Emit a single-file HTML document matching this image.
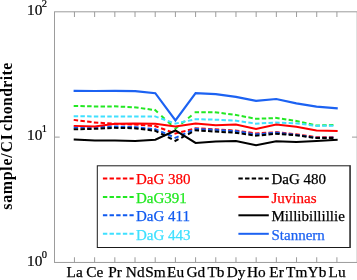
<!DOCTYPE html>
<html><head><meta charset="utf-8"><title>REE plot</title>
<style>
html,body{margin:0;padding:0;background:#fff;}
svg{display:block;}
text{font-family:"Liberation Serif","Times New Roman",serif;}
</style></head><body>
<svg width="357" height="280" viewBox="0 0 357 280">
<rect x="0" y="0" width="357" height="280" fill="#fff"/>

<g stroke="#9c9c9c" stroke-width="1" fill="none">
<rect x="54.5" y="11.8" width="302.7" height="250.64999999999998"/>
<line x1="74.45" y1="11.8" x2="74.45" y2="17.0"/>
<line x1="74.45" y1="262.45" x2="74.45" y2="257.25"/>
<line x1="94.64" y1="11.8" x2="94.64" y2="17.0"/>
<line x1="94.64" y1="262.45" x2="94.64" y2="257.25"/>
<line x1="114.83" y1="11.8" x2="114.83" y2="17.0"/>
<line x1="114.83" y1="262.45" x2="114.83" y2="257.25"/>
<line x1="135.02" y1="11.8" x2="135.02" y2="17.0"/>
<line x1="135.02" y1="262.45" x2="135.02" y2="257.25"/>
<line x1="155.21" y1="11.8" x2="155.21" y2="17.0"/>
<line x1="155.21" y1="262.45" x2="155.21" y2="257.25"/>
<line x1="175.40" y1="11.8" x2="175.40" y2="17.0"/>
<line x1="175.40" y1="262.45" x2="175.40" y2="257.25"/>
<line x1="195.59" y1="11.8" x2="195.59" y2="17.0"/>
<line x1="195.59" y1="262.45" x2="195.59" y2="257.25"/>
<line x1="215.78" y1="11.8" x2="215.78" y2="17.0"/>
<line x1="215.78" y1="262.45" x2="215.78" y2="257.25"/>
<line x1="235.97" y1="11.8" x2="235.97" y2="17.0"/>
<line x1="235.97" y1="262.45" x2="235.97" y2="257.25"/>
<line x1="256.16" y1="11.8" x2="256.16" y2="17.0"/>
<line x1="256.16" y1="262.45" x2="256.16" y2="257.25"/>
<line x1="276.35" y1="11.8" x2="276.35" y2="17.0"/>
<line x1="276.35" y1="262.45" x2="276.35" y2="257.25"/>
<line x1="296.54" y1="11.8" x2="296.54" y2="17.0"/>
<line x1="296.54" y1="262.45" x2="296.54" y2="257.25"/>
<line x1="316.73" y1="11.8" x2="316.73" y2="17.0"/>
<line x1="316.73" y1="262.45" x2="316.73" y2="257.25"/>
<line x1="336.92" y1="11.8" x2="336.92" y2="17.0"/>
<line x1="336.92" y1="262.45" x2="336.92" y2="257.25"/>
<line x1="54.5" y1="137.12" x2="59.7" y2="137.12"/>
<line x1="357.2" y1="137.12" x2="352.0" y2="137.12"/>
</g>
<g fill="none" stroke-width="2" stroke-linejoin="miter" stroke-linecap="square">
<line x1="73.71" y1="119.88" x2="93.46" y2="122.33" stroke="#ff0000" stroke-linecap="butt" stroke-dasharray="4.45 2.318"/>
<line x1="93.85" y1="122.44" x2="113.60" y2="123.71" stroke="#ff0000" stroke-linecap="butt" stroke-dasharray="4.45 2.281"/>
<line x1="114.00" y1="123.77" x2="133.75" y2="124.45" stroke="#ff0000" stroke-linecap="butt" stroke-dasharray="4.45 2.271"/>
<line x1="134.15" y1="124.42" x2="153.90" y2="125.99" stroke="#ff0000" stroke-linecap="butt" stroke-dasharray="4.45 2.288"/>
<line x1="154.36" y1="125.76" x2="174.14" y2="133.02" stroke="#ff0000" stroke-linecap="butt" stroke-dasharray="4.45 2.705"/>
<line x1="174.48" y1="133.75" x2="194.24" y2="128.65" stroke="#ff0000" stroke-linecap="butt" stroke-dasharray="4.45 2.487"/>
<line x1="194.60" y1="128.25" x2="214.35" y2="129.23" stroke="#ff0000" stroke-linecap="butt" stroke-dasharray="4.45 2.275"/>
<line x1="214.75" y1="129.24" x2="234.50" y2="130.51" stroke="#ff0000" stroke-linecap="butt" stroke-dasharray="4.45 2.281"/>
<line x1="234.91" y1="130.46" x2="254.66" y2="133.21" stroke="#ff0000" stroke-linecap="butt" stroke-dasharray="4.45 2.331"/>
<line x1="255.05" y1="133.46" x2="274.80" y2="132.28" stroke="#ff0000" stroke-linecap="butt" stroke-dasharray="4.45 2.279"/>
<line x1="275.21" y1="132.10" x2="294.96" y2="134.15" stroke="#ff0000" stroke-linecap="butt" stroke-dasharray="4.45 2.303"/>
<line x1="295.36" y1="134.16" x2="315.11" y2="137.00" stroke="#ff0000" stroke-linecap="butt" stroke-dasharray="4.45 2.336"/>
<line x1="315.50" y1="137.20" x2="335.25" y2="137.20" stroke="#ff0000" stroke-linecap="butt" stroke-dasharray="4.45 2.267"/>
<line x1="73.70" y1="105.98" x2="93.45" y2="106.37" stroke="#22e822" stroke-linecap="butt" stroke-dasharray="4.45 2.268"/>
<line x1="93.85" y1="106.40" x2="113.60" y2="106.40" stroke="#22e822" stroke-linecap="butt" stroke-dasharray="4.45 2.267"/>
<line x1="114.00" y1="106.36" x2="133.75" y2="107.24" stroke="#22e822" stroke-linecap="butt" stroke-dasharray="4.45 2.273"/>
<line x1="134.16" y1="107.16" x2="153.91" y2="110.00" stroke="#22e822" stroke-linecap="butt" stroke-dasharray="4.45 2.336"/>
<line x1="154.56" y1="109.53" x2="174.42" y2="127.66" stroke="#22e822" stroke-linecap="butt" stroke-dasharray="4.45 4.646"/>
<line x1="174.67" y1="129.23" x2="194.51" y2="113.08" stroke="#22e822" stroke-linecap="butt" stroke-dasharray="4.45 4.210"/>
<line x1="194.60" y1="112.20" x2="214.35" y2="112.29" stroke="#22e822" stroke-linecap="butt" stroke-dasharray="4.45 2.267"/>
<line x1="214.76" y1="112.17" x2="234.51" y2="114.81" stroke="#22e822" stroke-linecap="butt" stroke-dasharray="4.45 2.327"/>
<line x1="234.92" y1="114.81" x2="254.67" y2="118.54" stroke="#22e822" stroke-linecap="butt" stroke-dasharray="4.45 2.385"/>
<line x1="255.05" y1="118.84" x2="274.80" y2="118.06" stroke="#22e822" stroke-linecap="butt" stroke-dasharray="4.45 2.272"/>
<line x1="275.21" y1="117.85" x2="294.97" y2="120.79" stroke="#22e822" stroke-linecap="butt" stroke-dasharray="4.45 2.341"/>
<line x1="295.37" y1="120.78" x2="315.13" y2="125.19" stroke="#22e822" stroke-linecap="butt" stroke-dasharray="4.45 2.432"/>
<line x1="315.50" y1="125.53" x2="335.25" y2="124.94" stroke="#22e822" stroke-linecap="butt" stroke-dasharray="4.45 2.270"/>
<line x1="73.70" y1="127.41" x2="93.45" y2="127.21" stroke="#0f5af0" stroke-linecap="butt" stroke-dasharray="4.45 2.267"/>
<line x1="93.85" y1="127.23" x2="113.60" y2="126.55" stroke="#0f5af0" stroke-linecap="butt" stroke-dasharray="4.45 2.271"/>
<line x1="114.00" y1="126.47" x2="133.75" y2="127.15" stroke="#0f5af0" stroke-linecap="butt" stroke-dasharray="4.45 2.271"/>
<line x1="134.15" y1="127.10" x2="153.91" y2="129.06" stroke="#0f5af0" stroke-linecap="butt" stroke-dasharray="4.45 2.300"/>
<line x1="154.38" y1="128.81" x2="174.16" y2="137.25" stroke="#0f5af0" stroke-linecap="butt" stroke-dasharray="4.45 2.853"/>
<line x1="174.54" y1="138.20" x2="194.32" y2="129.47" stroke="#0f5af0" stroke-linecap="butt" stroke-dasharray="4.45 2.893"/>
<line x1="194.60" y1="128.85" x2="214.35" y2="129.83" stroke="#0f5af0" stroke-linecap="butt" stroke-dasharray="4.45 2.275"/>
<line x1="214.75" y1="129.84" x2="234.50" y2="131.11" stroke="#0f5af0" stroke-linecap="butt" stroke-dasharray="4.45 2.281"/>
<line x1="234.91" y1="131.04" x2="254.67" y2="134.18" stroke="#0f5af0" stroke-linecap="butt" stroke-dasharray="4.45 2.351"/>
<line x1="255.05" y1="134.49" x2="274.81" y2="132.72" stroke="#0f5af0" stroke-linecap="butt" stroke-dasharray="4.45 2.293"/>
<line x1="275.21" y1="132.49" x2="294.96" y2="134.74" stroke="#0f5af0" stroke-linecap="butt" stroke-dasharray="4.45 2.310"/>
<line x1="295.36" y1="134.76" x2="315.11" y2="137.51" stroke="#0f5af0" stroke-linecap="butt" stroke-dasharray="4.45 2.331"/>
<line x1="315.50" y1="137.70" x2="335.25" y2="137.61" stroke="#0f5af0" stroke-linecap="butt" stroke-dasharray="4.45 2.267"/>
<line x1="73.70" y1="116.30" x2="93.45" y2="116.39" stroke="#3fe0ff" stroke-linecap="butt" stroke-dasharray="4.45 2.267"/>
<line x1="93.85" y1="116.40" x2="113.60" y2="116.40" stroke="#3fe0ff" stroke-linecap="butt" stroke-dasharray="4.45 2.267"/>
<line x1="114.00" y1="116.39" x2="133.75" y2="116.59" stroke="#3fe0ff" stroke-linecap="butt" stroke-dasharray="4.45 2.267"/>
<line x1="134.15" y1="116.60" x2="153.90" y2="116.51" stroke="#3fe0ff" stroke-linecap="butt" stroke-dasharray="4.45 2.267"/>
<line x1="154.36" y1="116.17" x2="174.13" y2="123.13" stroke="#3fe0ff" stroke-linecap="butt" stroke-dasharray="4.45 2.671"/>
<line x1="174.47" y1="123.81" x2="194.23" y2="119.50" stroke="#3fe0ff" stroke-linecap="butt" stroke-dasharray="4.45 2.425"/>
<line x1="194.60" y1="119.18" x2="214.35" y2="119.67" stroke="#3fe0ff" stroke-linecap="butt" stroke-dasharray="4.45 2.269"/>
<line x1="214.75" y1="119.65" x2="234.50" y2="120.63" stroke="#3fe0ff" stroke-linecap="butt" stroke-dasharray="4.45 2.275"/>
<line x1="234.91" y1="120.56" x2="254.66" y2="123.40" stroke="#3fe0ff" stroke-linecap="butt" stroke-dasharray="4.45 2.336"/>
<line x1="255.05" y1="123.65" x2="274.80" y2="122.58" stroke="#3fe0ff" stroke-linecap="butt" stroke-dasharray="4.45 2.277"/>
<line x1="275.20" y1="122.46" x2="294.95" y2="123.24" stroke="#3fe0ff" stroke-linecap="butt" stroke-dasharray="4.45 2.272"/>
<line x1="295.36" y1="123.17" x2="315.11" y2="125.72" stroke="#3fe0ff" stroke-linecap="butt" stroke-dasharray="4.45 2.322"/>
<line x1="315.50" y1="125.91" x2="335.25" y2="125.62" stroke="#3fe0ff" stroke-linecap="butt" stroke-dasharray="4.45 2.267"/>
<line x1="73.70" y1="129.32" x2="93.45" y2="128.83" stroke="#000" stroke-linecap="butt" stroke-dasharray="4.45 2.269"/>
<line x1="93.85" y1="128.85" x2="113.60" y2="127.87" stroke="#000" stroke-linecap="butt" stroke-dasharray="4.45 2.275"/>
<line x1="114.00" y1="127.78" x2="133.75" y2="128.27" stroke="#000" stroke-linecap="butt" stroke-dasharray="4.45 2.269"/>
<line x1="134.16" y1="128.18" x2="153.91" y2="130.63" stroke="#000" stroke-linecap="butt" stroke-dasharray="4.45 2.318"/>
<line x1="154.40" y1="130.36" x2="174.20" y2="140.18" stroke="#000" stroke-linecap="butt" stroke-dasharray="4.45 3.048"/>
<line x1="174.56" y1="141.26" x2="194.36" y2="130.95" stroke="#000" stroke-linecap="butt" stroke-dasharray="4.45 3.124"/>
<line x1="194.60" y1="130.24" x2="214.35" y2="131.51" stroke="#000" stroke-linecap="butt" stroke-dasharray="4.45 2.281"/>
<line x1="214.75" y1="131.54" x2="234.50" y2="132.72" stroke="#000" stroke-linecap="butt" stroke-dasharray="4.45 2.279"/>
<line x1="234.91" y1="132.66" x2="254.66" y2="135.50" stroke="#000" stroke-linecap="butt" stroke-dasharray="4.45 2.336"/>
<line x1="255.05" y1="135.79" x2="274.81" y2="133.93" stroke="#000" stroke-linecap="butt" stroke-dasharray="4.45 2.296"/>
<line x1="275.20" y1="133.73" x2="294.95" y2="135.20" stroke="#000" stroke-linecap="butt" stroke-dasharray="4.45 2.285"/>
<line x1="295.36" y1="135.16" x2="315.11" y2="137.91" stroke="#000" stroke-linecap="butt" stroke-dasharray="4.45 2.331"/>
<line x1="315.50" y1="138.10" x2="335.25" y2="138.10" stroke="#000" stroke-linecap="butt" stroke-dasharray="4.45 2.267"/>
<polyline points="74.70,125.90 94.85,126.40 115.00,123.80 135.15,123.40 155.30,123.70 175.45,126.50 195.60,123.60 215.75,125.20 235.90,124.50 256.05,129.00 276.20,124.50 296.35,126.70 316.50,130.40 336.65,131.00" stroke="#ff0000"/>
<polyline points="74.70,139.60 94.85,140.40 115.00,140.50 135.15,141.00 155.30,139.70 175.45,130.50 195.60,142.90 215.75,141.60 235.90,140.90 256.05,145.30 276.20,141.30 296.35,142.00 316.50,141.10 336.65,139.80" stroke="#000"/>
<polyline points="74.70,90.80 94.85,91.00 115.00,90.80 135.15,91.20 155.30,93.20 175.45,120.40 195.60,93.20 215.75,94.10 235.90,96.80 256.05,100.80 276.20,99.00 296.35,103.40 316.50,106.60 336.65,108.30" stroke="#1c62f2" stroke-width="2.2"/>
</g>
<rect x="97.3" y="165.8" width="252.7" height="81.69999999999999" fill="#fff" stroke="#1a1a1a" stroke-width="1"/>
<line x1="350.15" y1="165.3" x2="350.15" y2="248.0" stroke="#333" stroke-width="1.2"/>
<line x1="103.9" y1="178.4" x2="132.7" y2="178.4" stroke="#ff0000" stroke-width="2" stroke-linecap="square" stroke-dasharray="2.4 4.25"/>
<text x="136.0" y="184.1" font-size="15.0" fill="#ff0000" stroke="#ff0000" stroke-width="0.25">DaG 380</text>
<line x1="103.9" y1="196.9" x2="132.7" y2="196.9" stroke="#22e822" stroke-width="2" stroke-linecap="square" stroke-dasharray="2.4 4.25"/>
<text x="136.0" y="202.6" font-size="15.0" fill="#22e822" stroke="#22e822" stroke-width="0.25">DaG391</text>
<line x1="103.9" y1="215.3" x2="132.7" y2="215.3" stroke="#0f5af0" stroke-width="2" stroke-linecap="square" stroke-dasharray="2.4 4.25"/>
<text x="136.0" y="221.0" font-size="15.0" fill="#0f5af0" stroke="#0f5af0" stroke-width="0.25">DaG 411</text>
<line x1="103.9" y1="233.8" x2="132.7" y2="233.8" stroke="#3fe0ff" stroke-width="2" stroke-linecap="square" stroke-dasharray="2.4 4.25"/>
<text x="136.0" y="239.5" font-size="15.0" fill="#3fe0ff" stroke="#3fe0ff" stroke-width="0.25">DaG 443</text>
<line x1="239.4" y1="178.4" x2="267.8" y2="178.4" stroke="#000" stroke-width="2" stroke-linecap="square" stroke-dasharray="2.4 4.25"/>
<text x="271.5" y="184.1" font-size="15.0" fill="#000" stroke="#000" stroke-width="0.25">DaG 480</text>
<line x1="239.4" y1="196.9" x2="267.8" y2="196.9" stroke="#ff0000" stroke-width="2" stroke-linecap="square"/>
<text x="271.5" y="202.6" font-size="15.0" fill="#ff0000" stroke="#ff0000" stroke-width="0.25">Juvinas</text>
<line x1="239.4" y1="215.3" x2="267.8" y2="215.3" stroke="#000" stroke-width="2" stroke-linecap="square"/>
<text x="271.5" y="221.0" font-size="15.0" fill="#000" stroke="#000" stroke-width="0.25">Millibillillie</text>
<line x1="239.4" y1="233.8" x2="267.8" y2="233.8" stroke="#1c62f2" stroke-width="2" stroke-linecap="square"/>
<text x="271.5" y="239.5" font-size="15.0" fill="#1c62f2" stroke="#1c62f2" stroke-width="0.25">Stannern</text>
<text x="74.65" y="276.6" font-size="15.3" text-anchor="middle" fill="#000" stroke="#000" stroke-width="0.25">La</text>
<text x="94.84" y="276.6" font-size="15.3" text-anchor="middle" fill="#000" stroke="#000" stroke-width="0.25">Ce</text>
<text x="115.03" y="276.6" font-size="15.3" text-anchor="middle" fill="#000" stroke="#000" stroke-width="0.25">Pr</text>
<text x="135.22" y="276.6" font-size="15.3" text-anchor="middle" fill="#000" stroke="#000" stroke-width="0.25">Nd</text>
<text x="155.41" y="276.6" font-size="15.3" text-anchor="middle" fill="#000" stroke="#000" stroke-width="0.25">Sm</text>
<text x="175.60" y="276.6" font-size="15.3" text-anchor="middle" fill="#000" stroke="#000" stroke-width="0.25">Eu</text>
<text x="195.79" y="276.6" font-size="15.3" text-anchor="middle" fill="#000" stroke="#000" stroke-width="0.25">Gd</text>
<text x="215.98" y="276.6" font-size="15.3" text-anchor="middle" fill="#000" stroke="#000" stroke-width="0.25">Tb</text>
<text x="236.17" y="276.6" font-size="15.3" text-anchor="middle" fill="#000" stroke="#000" stroke-width="0.25">Dy</text>
<text x="256.36" y="276.6" font-size="15.3" text-anchor="middle" fill="#000" stroke="#000" stroke-width="0.25">Ho</text>
<text x="276.55" y="276.6" font-size="15.3" text-anchor="middle" fill="#000" stroke="#000" stroke-width="0.25">Er</text>
<text x="296.74" y="276.6" font-size="15.3" text-anchor="middle" fill="#000" stroke="#000" stroke-width="0.25">Tm</text>
<text x="316.93" y="276.6" font-size="15.3" text-anchor="middle" fill="#000" stroke="#000" stroke-width="0.25">Yb</text>
<text x="337.12" y="276.6" font-size="15.3" text-anchor="middle" fill="#000" stroke="#000" stroke-width="0.25">Lu</text>
<text x="27.1" y="14.95" font-size="15.3" fill="#000" stroke="#000" stroke-width="0.2">10<tspan font-size="10.5" dy="-7.9" dx="-0.6">2</tspan></text>
<text x="27.1" y="140.28" font-size="15.3" fill="#000" stroke="#000" stroke-width="0.2">10<tspan font-size="10.5" dy="-7.9" dx="-0.6">1</tspan></text>
<text x="27.1" y="265.60" font-size="15.3" fill="#000" stroke="#000" stroke-width="0.2">10<tspan font-size="10.5" dy="-7.9" dx="-0.6">0</tspan></text>
<text transform="translate(11.8,209.8) rotate(-90)" font-size="15.8" font-weight="bold" letter-spacing="0.78" fill="#000">sample/CI</text>
<text transform="translate(11.8,130.9) rotate(-90)" font-size="15.8" font-weight="bold" letter-spacing="0.4" fill="#000">chondrite</text>
</svg></body></html>
